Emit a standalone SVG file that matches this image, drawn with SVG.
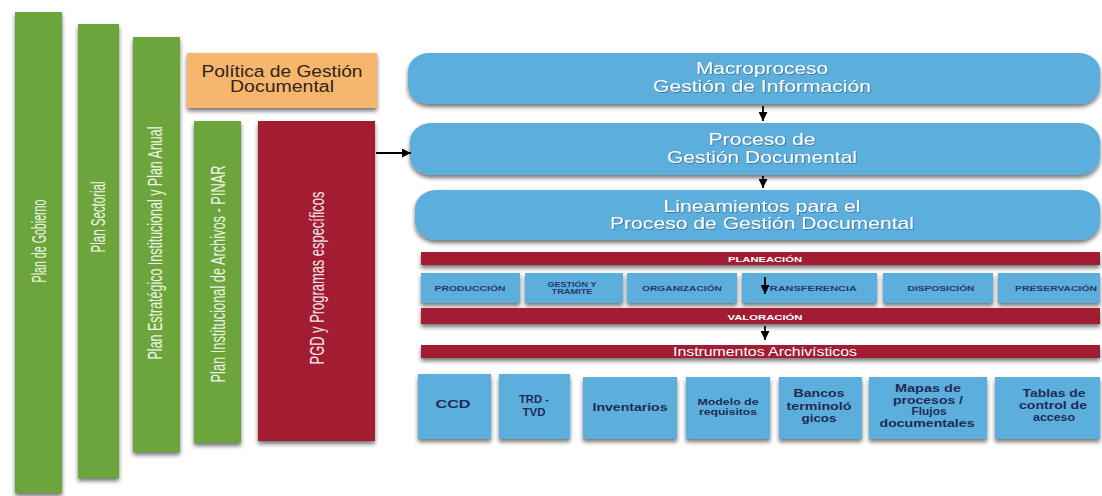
<svg xmlns="http://www.w3.org/2000/svg" width="1102" height="496" viewBox="0 0 1102 496">
<defs>
<filter id="sh" x="-10%" y="-30%" width="120%" height="220%">
<feDropShadow dx="0" dy="3" stdDeviation="2" flood-color="#000" flood-opacity="0.55"/>
</filter>
<filter id="ts" x="-5%" y="-30%" width="110%" height="160%">
<feDropShadow dx="0.8" dy="0.8" stdDeviation="0.6" flood-color="#1a3a5a" flood-opacity="0.6"/>
</filter>
<marker id="ah" viewBox="0 0 10 10" refX="10" refY="5" markerWidth="10" markerHeight="9" markerUnits="userSpaceOnUse" orient="auto">
<path d="M0,0 L10,5 L0,10 z" fill="#000"/>
</marker>
</defs>
<style>
text{font-family:"Liberation Sans",Arial,sans-serif}
.green{fill:#6CA53B;filter:url(#sh)}
.red{fill:#A21D31;filter:url(#sh)}
.blue{fill:#5CAEDD;filter:url(#sh)}
.orange{fill:#F7B66E;filter:url(#sh)}
.vt{font-size:21px;fill:#EEF4E4;text-anchor:middle}
.vr{font-size:21px;fill:#F3E6E8;text-anchor:middle}
.big{font-size:16px;fill:#FFFFFF;text-anchor:middle;filter:url(#ts)}
.pol{font-size:16px;fill:#2E2517;text-anchor:middle}
.bar{font-size:8px;font-weight:bold;fill:#FFFFFF;text-anchor:middle}
.stg{font-size:8px;font-weight:bold;fill:#27396A;text-anchor:middle}
.ins{font-size:11px;font-weight:bold;fill:#1E2C55;text-anchor:middle}
.inss{font-size:9px;font-weight:bold;fill:#1E2C55;text-anchor:middle}
.arr{stroke:#000;stroke-width:1.8;fill:none;marker-end:url(#ah)}
</style>

<g id="plan-gobierno">
<rect class="green" x="15" y="12" width="47" height="481"/>
<text class="vt" transform="translate(38,241) rotate(-90) scale(0.508,1)" y="8">Plan de Gobierno</text>
</g>
<g id="plan-sectorial">
<rect class="green" x="78" y="24" width="41" height="454"/>
<text class="vt" transform="translate(97,217) rotate(-90) scale(0.548,1)" y="8">Plan Sectorial</text>
</g>
<g id="plan-estrategico">
<rect class="green" x="133" y="37" width="47" height="415"/>
<text class="vt" transform="translate(155,243) rotate(-90) scale(0.594,1)" y="7">Plan Estratégico Institucional  y Plan Anual</text>
</g>
<g id="politica">
<rect class="orange" x="187" y="53" width="190" height="55"/>
<text class="pol" x="282" y="77" textLength="161" lengthAdjust="spacingAndGlyphs">Política de Gestión</text>
<text class="pol" x="282" y="92" textLength="104" lengthAdjust="spacingAndGlyphs">Documental</text>
</g>
<g id="pinar">
<rect class="green" x="194" y="121" width="47" height="322"/>
<text class="vt" transform="translate(217,274) rotate(-90) scale(0.61,1)" y="8">Plan Institucional de Archivos - PINAR</text>
</g>
<g id="pgd">
<rect class="red" x="258" y="121" width="117" height="320"/>
<text class="vr" transform="translate(317,278) rotate(-90) scale(0.615,1)" y="7">PGD y Programas específicos</text>
</g>

<g id="macroproceso">
<rect class="blue" x="408" y="53" width="692" height="51" rx="22" ry="18"/>
<text class="big" x="762" y="74" textLength="132" lengthAdjust="spacingAndGlyphs">Macroproceso</text>
<text class="big" x="762" y="92" textLength="218" lengthAdjust="spacingAndGlyphs">Gestión de Información</text>
</g>
<g id="proceso">
<rect class="blue" x="410" y="123" width="690" height="52" rx="22" ry="18"/>
<text class="big" x="762" y="145" textLength="107" lengthAdjust="spacingAndGlyphs">Proceso de</text>
<text class="big" x="762" y="163" textLength="190" lengthAdjust="spacingAndGlyphs">Gestión Documental</text>
</g>
<g id="lineamientos">
<rect class="blue" x="415" y="190" width="685" height="50" rx="22" ry="18"/>
<text class="big" x="762" y="212" textLength="197" lengthAdjust="spacingAndGlyphs">Lineamientos para el</text>
<text class="big" x="762" y="229" textLength="304" lengthAdjust="spacingAndGlyphs">Proceso de Gestión Documental</text>
</g>

<g id="planeacion">
<rect class="red" x="421" y="252" width="679" height="13"/>
<text class="bar" x="765" y="262" textLength="74" lengthAdjust="spacingAndGlyphs">PLANEACIÓN</text>
</g>
<g id="produccion">
<rect class="blue" x="421" y="273" width="99" height="30"/>
<text class="stg" x="470" y="291" textLength="71" lengthAdjust="spacingAndGlyphs">PRODUCCIÓN</text>
</g>
<g id="gestion-tramite">
<rect class="blue" x="525" y="273" width="98" height="30"/>
<text class="stg" x="572" y="287" textLength="49" lengthAdjust="spacingAndGlyphs">GESTIÓN Y</text>
<text class="stg" x="572" y="294" textLength="41" lengthAdjust="spacingAndGlyphs">TRÁMITE</text>
</g>
<g id="organizacion">
<rect class="blue" x="627" y="273" width="110" height="30"/>
<text class="stg" x="682" y="291" textLength="80" lengthAdjust="spacingAndGlyphs">ORGANIZACIÓN</text>
</g>
<g id="transferencia">
<rect class="blue" x="742" y="273" width="135" height="30"/>
<text class="stg" x="810" y="291" textLength="94" lengthAdjust="spacingAndGlyphs">TRANSFERENCIA</text>
</g>
<g id="disposicion">
<rect class="blue" x="883" y="273" width="110" height="30"/>
<text class="stg" x="941" y="291" textLength="67" lengthAdjust="spacingAndGlyphs">DISPOSICIÓN</text>
</g>
<g id="preservacion">
<rect class="blue" x="998" y="273" width="102" height="30"/>
<text class="stg" x="1056" y="291" textLength="82" lengthAdjust="spacingAndGlyphs">PRESERVACIÓN</text>
</g>
<g id="valoracion">
<rect class="red" x="421" y="308" width="679" height="16"/>
<text class="bar" x="765" y="320" textLength="75" lengthAdjust="spacingAndGlyphs">VALORACIÓN</text>
</g>
<g id="instrumentos">
<rect class="red" x="421" y="345" width="679" height="13"/>
<text x="765" y="356" style="font-size:13px;fill:#FFFFFF;text-anchor:middle" textLength="184" lengthAdjust="spacingAndGlyphs">Instrumentos Archivísticos</text>
</g>

<g id="ccd">
<rect class="blue" x="418" y="374" width="73" height="65"/>
<text class="ins" x="453" y="408" textLength="35" lengthAdjust="spacingAndGlyphs">CCD</text>
</g>
<g id="trd-tvd">
<rect class="blue" x="499" y="374" width="71" height="65"/>
<text class="ins" x="534" y="403" textLength="30" lengthAdjust="spacingAndGlyphs">TRD -</text>
<text class="ins" x="534" y="416" textLength="23" lengthAdjust="spacingAndGlyphs">TVD</text>
</g>
<g id="inventarios">
<rect class="blue" x="583" y="377" width="94" height="62"/>
<text class="ins" x="630" y="411" textLength="75" lengthAdjust="spacingAndGlyphs">Inventarios</text>
</g>
<g id="modelo-requisitos">
<rect class="blue" x="686" y="377" width="84" height="62"/>
<text class="inss" x="728" y="405" textLength="61" lengthAdjust="spacingAndGlyphs">Modelo de</text>
<text class="inss" x="728" y="415" textLength="58" lengthAdjust="spacingAndGlyphs">requisitos</text>
</g>
<g id="bancos">
<rect class="blue" x="779" y="377" width="83" height="62"/>
<text class="ins" x="819" y="397" textLength="51" lengthAdjust="spacingAndGlyphs">Bancos</text>
<text class="ins" x="819" y="410" textLength="65" lengthAdjust="spacingAndGlyphs">terminoló</text>
<text class="ins" x="819" y="422" textLength="35" lengthAdjust="spacingAndGlyphs">gicos</text>
</g>
<g id="mapas">
<rect class="blue" x="869" y="377" width="118" height="62"/>
<text class="ins" x="928" y="392" textLength="66" lengthAdjust="spacingAndGlyphs">Mapas de</text>
<text class="ins" x="928" y="404" textLength="70" lengthAdjust="spacingAndGlyphs">procesos /</text>
<text class="ins" x="929" y="415" textLength="35" lengthAdjust="spacingAndGlyphs">Flujos</text>
<text class="ins" x="927" y="427" textLength="95" lengthAdjust="spacingAndGlyphs">documentales</text>
</g>
<g id="tablas">
<rect class="blue" x="995" y="377" width="105" height="62"/>
<text class="ins" x="1054" y="397" textLength="63" lengthAdjust="spacingAndGlyphs">Tablas de</text>
<text class="ins" x="1053" y="409" textLength="68" lengthAdjust="spacingAndGlyphs">control de</text>
<text class="ins" x="1054" y="421" textLength="42" lengthAdjust="spacingAndGlyphs">acceso</text>
</g>

<g id="connectors">
<line class="arr" x1="376" y1="153" x2="411" y2="153"/>
<line class="arr" x1="763" y1="106" x2="763" y2="121"/>
<line class="arr" x1="763" y1="176" x2="763" y2="188"/>
<line class="arr" x1="765" y1="277" x2="765" y2="294"/>
<line class="arr" x1="765" y1="326" x2="765" y2="340"/>
</g>
</svg>
